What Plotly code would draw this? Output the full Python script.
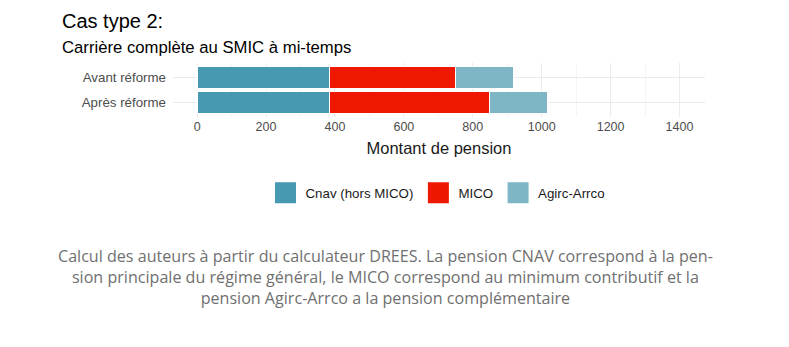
import plotly.graph_objects as go

# Pension amounts by scheme, before / after the reform
scenarios = ["Avant réforme", "Après réforme"]
cnav = [383, 383]
mico = [366, 465]
agirc = [168, 169]

series_names = ["Cnav (hors MICO)", "MICO", "Agirc-Arrco"]
series_values = [cnav, mico, agirc]
series_colors = ["#4798B1", "#EE1700", "#7EB6C5"]

x_ticks = [0, 200, 400, 600, 800, 1000, 1200, 1400]

title_text = "Cas type 2:"
subtitle_text = "Carrière complète au SMIC à mi-temps"
x_title = "Montant de pension"
caption_lines = [
    "Calcul des auteurs à partir du calculateur DREES. La pension CNAV correspond à la pen-",
    "sion principale du régime général, le MICO correspond au minimum contributif et la",
    "pension Agirc-Arrco a la pension complémentaire",
]

FONT = "Liberation Sans, Arial, sans-serif"

# plot area in pixels: x 173..705, y 63..117
PX_L, PX_W, PX_B, PX_H = 173, 532, 117, 54


def px_x(x):
    return (x - PX_L) / PX_W


def px_y(y):
    return (PX_B - y) / PX_H


fig = go.Figure()
for name, vals, col in zip(series_names, series_values, series_colors):
    fig.add_trace(go.Bar(
        y=scenarios, x=vals, orientation="h", name=name,
        marker=dict(color=col, line=dict(color="white", width=1)),
        width=0.9, showlegend=False,
    ))
    # square legend keys
    fig.add_trace(go.Scatter(
        x=[None], y=[None], mode="markers", name=name,
        marker=dict(symbol="square", size=16, color=col,
                    line=dict(color=col, width=6)),
        showlegend=True,
    ))

fig.update_layout(
    width=789, height=347,
    margin=dict(l=PX_L, r=789 - PX_L - PX_W, t=PX_B - PX_H, b=347 - PX_B),
    paper_bgcolor="white", plot_bgcolor="white",
    barmode="stack", bargap=0.1,
    font=dict(family=FONT, color="#4d4d4d"),
    legend=dict(
        orientation="h", x=px_x(438), xanchor="center", y=px_y(193), yanchor="middle",
        traceorder="normal",
        font=dict(size=13.3, color="#1a1a1a", family=FONT),
        itemwidth=30, tracegroupgap=0,
    ),
    xaxis=dict(
        range=[-70, 1474], tickvals=x_ticks, ticktext=[str(v) for v in x_ticks],
        showgrid=True, gridcolor="#ebebeb", gridwidth=1,
        minor=dict(dtick=100, showgrid=True, gridcolor="#f4f4f4", gridwidth=1),
        zeroline=False, showline=False, ticks="",
        tickfont=dict(size=12.5, color="#4d4d4d"),
        title=dict(text=x_title, font=dict(size=16.5, color="#1a1a1a"), standoff=9),
    ),
    yaxis=dict(
        type="category", categoryorder="array", categoryarray=scenarios,
        range=[1.6, -0.6],
        showgrid=True, gridcolor="#ebebeb", gridwidth=1,
        zeroline=False, showline=False, ticks="", ticklabelstandoff=6,
        tickfont=dict(size=13.3, color="#4d4d4d"),
    ),
)

fig.add_annotation(
    xref="paper", yref="paper", x=px_x(60), y=px_y(21),
    text=title_text, showarrow=False, xanchor="left", yanchor="middle",
    font=dict(size=20, color="#000000", family=FONT),
)
fig.add_annotation(
    xref="paper", yref="paper", x=px_x(60), y=px_y(47),
    text=subtitle_text, showarrow=False, xanchor="left", yanchor="middle",
    font=dict(size=16.7, color="#000000", family=FONT),
)
fig.add_annotation(
    xref="paper", yref="paper", x=px_x(385), y=px_y(277),
    text="<br>".join(caption_lines), showarrow=False, xanchor="center", yanchor="middle",
    align="center",
    font=dict(size=16.1, color="#707070", family="Open Sans, sans-serif"),
)

fig.write_html("out.html")
